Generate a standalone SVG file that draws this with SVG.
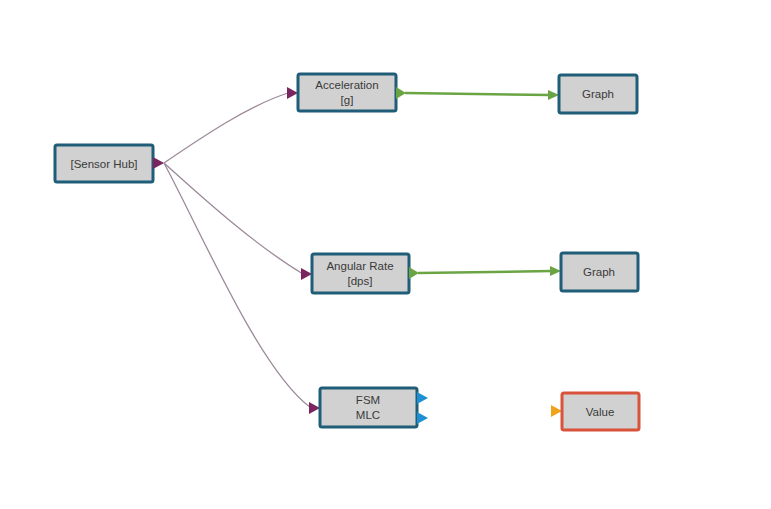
<svg xmlns="http://www.w3.org/2000/svg" width="771" height="509" viewBox="0 0 771 509">
<style>
.node rect{fill:#d1d1d1;stroke:#1f5d78;stroke-width:3}
.node.red rect{stroke:#d9523a}
.node text{font-family:"Liberation Sans",Arial,sans-serif;font-size:11.5px;fill:#3a3a3a;text-anchor:middle}
.wire{fill:none;stroke:#9c8a9a;stroke-width:1.3}
.gwire{fill:none;stroke:#6aa443;stroke-width:2.5}
.pp{fill:#7a2560}
.pg{fill:#6aa443}
.pb{fill:#1e8fd0}
.po{fill:#f0a21c}
</style>
<rect width="771" height="509" fill="#ffffff"/>
<g id="connectors">
<path class="wire" d="M164,163 C205,135 250,105 288,93"/>
<path class="wire" d="M164,163 C205,200 255,245 303,274"/>
<path class="wire" d="M164,163 C205,240 260,370 311,408"/>
<path class="gwire" d="M405,93 L550,95"/>
<polygon class="pg" points="548,90 559,95 548,100"/>
<path class="gwire" d="M418,273 L552,271"/>
<polygon class="pg" points="550,266 561,271 550,276"/>
</g>
<g id="sensor-hub" class="node">
<rect x="55" y="145" width="98" height="37" rx="2"/>
<text x="104" y="168">[Sensor Hub]</text>
<polygon class="pp" points="153,157 164,163 153,169"/>
</g>
<g id="acceleration" class="node">
<polygon class="pp" points="287,87 298,93 287,99"/>
<rect x="298" y="74" width="98" height="37" rx="2"/>
<text x="347" y="89">Acceleration</text>
<text x="347" y="104">[g]</text>
<polygon class="pg" points="396,87 406,93 396,99"/>
</g>
<g id="graph-1" class="node">
<rect x="559" y="75" width="78" height="38" rx="2"/>
<text x="598" y="98">Graph</text>
</g>
<g id="angular-rate" class="node">
<polygon class="pp" points="301,268 312,274 301,280"/>
<rect x="312" y="254" width="97" height="39" rx="2"/>
<text x="360" y="270">Angular Rate</text>
<text x="360" y="285">[dps]</text>
<polygon class="pg" points="409,267 419,273 409,279"/>
</g>
<g id="graph-2" class="node">
<rect x="561" y="253" width="77" height="38" rx="2"/>
<text x="599" y="276">Graph</text>
</g>
<g id="fsm-mlc" class="node">
<polygon class="pp" points="309,402 320,408 309,414"/>
<rect x="320" y="388" width="97" height="39" rx="2"/>
<text x="368" y="404">FSM</text>
<text x="368" y="419">MLC</text>
<polygon class="pb" points="417,392 428,398 417,404"/>
<polygon class="pb" points="417,412 428,418 417,424"/>
</g>
<g id="value" class="node red">
<polygon class="po" points="551,405 562,411 551,417"/>
<rect x="562" y="393" width="77" height="37" rx="2"/>
<text x="600" y="416">Value</text>
</g>
</svg>
